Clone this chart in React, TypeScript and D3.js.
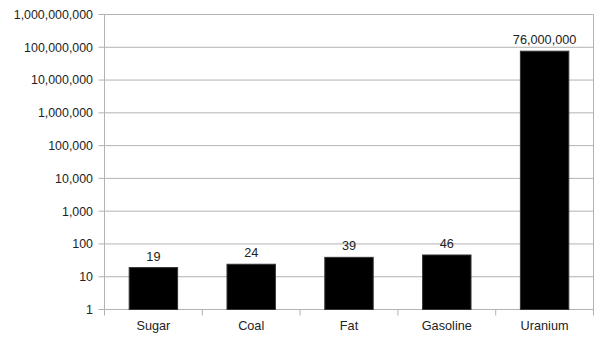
import React from "react";
import * as d3 from "d3";

const categories = ["Sugar", "Coal", "Fat", "Gasoline", "Uranium"];
const values = [19, 24, 39, 46, 76000000];
const valueLabels = ["19", "24", "39", "46", "76,000,000"];
const yTicks = [1, 10, 100, 1000, 10000, 100000, 1000000, 10000000, 100000000, 1000000000];

const W = 605;
const H = 340;
const left = 104.5;
const right = 593.5;
const top = 14.5;
const bottom = 309.5;
const font = "'Liberation Sans', Arial, sans-serif";

export default function App() {
  const x = d3.scaleBand<string>().domain(categories).range([left, right]).paddingInner(0).paddingOuter(0);
  const y = d3.scaleLog().domain([1, 1e9]).range([bottom, top]);
  const fmt = d3.format(",");
  const bw = x.bandwidth() * 0.495;
  const grid = "#b3b3b3";
  return (
    <svg width={W} height={H} style={{ position: "absolute", left: 0, top: 0, background: "#fff" }}>
      {yTicks.map((t) => (
        <g key={t}>
          <line x1={left - 6} x2={right} y1={y(t)} y2={y(t)} stroke={grid} strokeWidth={1} />
          <text x={93} y={y(t)} dy="0.35em" textAnchor="end" fontFamily={font} fontSize={12.4} fill="#222">
            {fmt(t)}
          </text>
        </g>
      ))}
      <line x1={left} x2={left} y1={top} y2={bottom} stroke={grid} />
      <line x1={right} x2={right} y1={top} y2={bottom} stroke={grid} />
      {categories.map((c) => (
        <line key={"t" + c} x1={x(c)!} x2={x(c)!} y1={bottom} y2={bottom + 6} stroke={grid} />
      ))}
      <line x1={right} x2={right} y1={bottom} y2={bottom + 6} stroke={grid} />
      {categories.map((c, i) => {
        const cx = x(c)! + x.bandwidth() / 2;
        return (
          <g key={c}>
            <rect x={cx - bw / 2} y={y(values[i])} width={bw} height={bottom - y(values[i])} fill="#000" stroke="#333" strokeWidth={1} />
            <text x={cx} y={y(values[i]) - 7} textAnchor="middle" fontFamily={font} fontSize={12.7} fill="#222">
              {valueLabels[i]}
            </text>
            <text x={cx} y={330} textAnchor="middle" fontFamily={font} fontSize={12.7} fill="#222">
              {c}
            </text>
          </g>
        );
      })}
    </svg>
  );
}
